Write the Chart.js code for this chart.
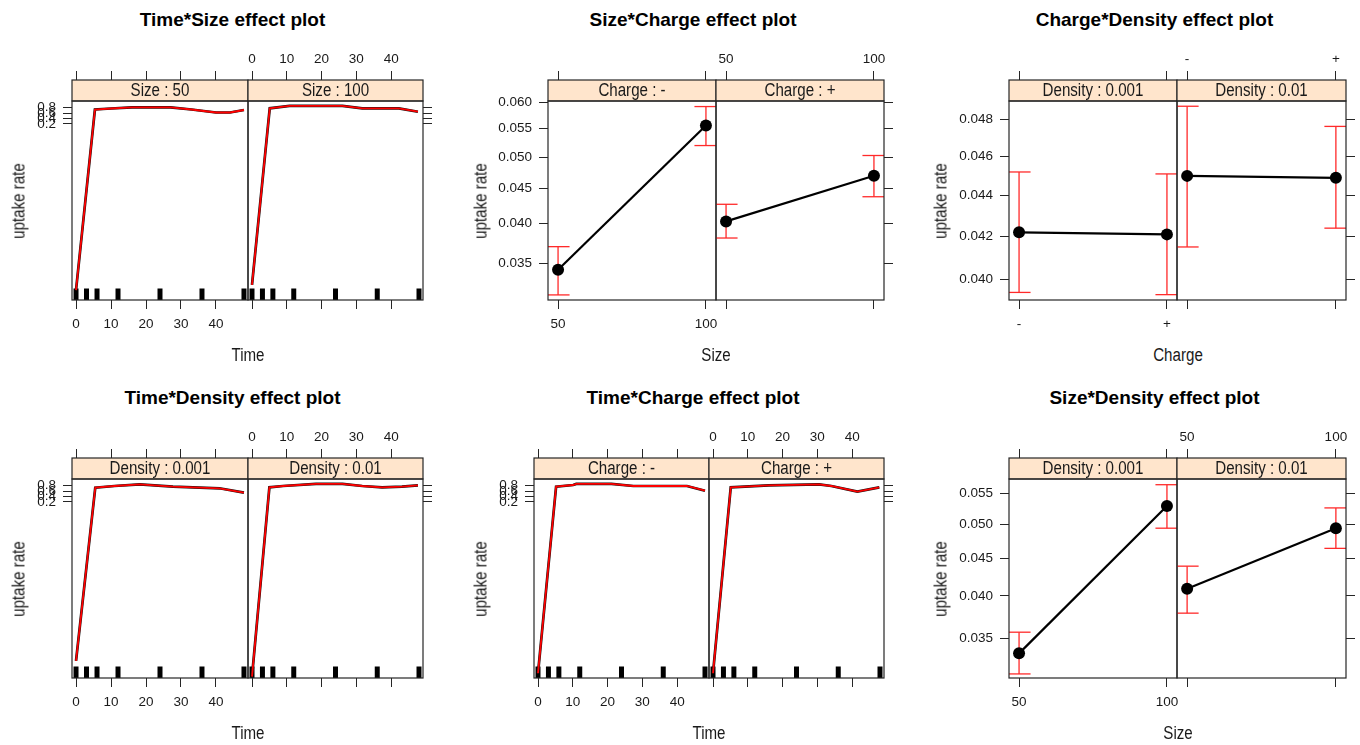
<!DOCTYPE html>
<html>
<head>
<meta charset="utf-8">
<script src="https://cdn.jsdelivr.net/npm/chart.js@4.4.1/dist/chart.umd.min.js"></script>
<style>
  html, body { margin: 0; padding: 0; background: #fff; }
  body { width: 1360px; height: 745px; position: relative; overflow: hidden; font-family: 'Liberation Sans', Arial, sans-serif; }
  canvas.panel { position: absolute; }
  .title { position: absolute; font-weight: bold; font-size: 19px; color: #000; white-space: nowrap; transform: translate(-50%, -50%); }
  .xlab, .ylab { position: absolute; font-family: 'Liberation Sans', Arial, sans-serif; font-size: 18px; color: #1a1a1a; white-space: nowrap; }
  .xlab { transform: translate(-50%, -50%) scaleX(0.84); }
  .ylab { transform: translate(-50%, -50%) rotate(-90deg) scaleX(0.84); }
</style>
</head>
<body>
<script>
// ---- data -------------------------------------------------------------
const rugTimes = [0, 3, 6, 12, 24, 36, 48];
const timeTicks = [0, 10, 20, 30, 40];
const sizeLevels = [50, 100];
const chargeLevels = ['-', '+'];
const densityLevels = ['0.001', '0.01'];

const timeRateTicks = [0.2, 0.4, 0.6, 0.8];
const scRateTicks = [0.035, 0.040, 0.045, 0.050, 0.055, 0.060];
const cdRateTicks = [0.040, 0.042, 0.044, 0.046, 0.048];
const sdRateTicks = [0.035, 0.040, 0.045, 0.050, 0.055];

// Time*Size fitted uptake rate
const tsTime50  = [0, 5.4, 10, 16, 27, 33, 40, 44, 48];
const tsRate50  = [1.3e-13, 0.740, 0.771, 0.805, 0.805, 0.740, 0.630, 0.630, 0.723];
const tsTime100 = [0, 5.1, 10.8, 26, 31.7, 42.2, 47.7];
const tsRate100 = [3.1e-13, 0.777, 0.838, 0.838, 0.777, 0.777, 0.661];

// Time*Density fitted uptake rate
const tdTime001 = [0, 5.5, 11, 18.2, 27.7, 41, 48];
const tdRate001 = [4.4e-13, 0.733, 0.786, 0.830, 0.765, 0.713, 0.540];
const tdTime01  = [0, 5, 8.9, 18.4, 26, 31.7, 37.4, 43.1, 47.7];
const tdRate01  = [3.0e-14, 0.746, 0.786, 0.838, 0.838, 0.786, 0.746, 0.765, 0.805];

// Time*Charge fitted uptake rate
const tcTimeNeg = [0, 5.2, 10.1, 11, 21.1, 27.4, 42.8, 48];
const tcRateNeg = [5.4e-14, 0.765, 0.813, 0.838, 0.838, 0.786, 0.786, 0.622];
const tcTimePos = [0, 5.1, 16, 30.5, 34, 41.5, 47.8];
const tcRatePos = [5.4e-14, 0.746, 0.805, 0.830, 0.786, 0.582, 0.746];

// Size*Charge effects with 95% limits (by size 50, 100)
const scFitNeg = [0.0342, 0.0556];
const scLowNeg = [0.0314, 0.0520];
const scUppNeg = [0.0370, 0.0592];
const scFitPos = [0.0403, 0.0470];
const scLowPos = [0.0381, 0.0438];
const scUppPos = [0.0427, 0.0503];

// Charge*Density effects (by charge -, +)
const cdFit001 = [0.0422, 0.0421];
const cdLow001 = [0.0394, 0.0393];
const cdUpp001 = [0.0452, 0.0451];
const cdFit01  = [0.0450, 0.0449];
const cdLow01  = [0.0415, 0.0424];
const cdUpp01  = [0.0487, 0.0476];

// Size*Density effects (by size 50, 100)
const sdFit001 = [0.0334, 0.0529];
const sdLow001 = [0.0313, 0.0494];
const sdUpp001 = [0.0357, 0.0565];
const sdFit01  = [0.0409, 0.0494];
const sdLow01  = [0.0379, 0.0464];
const sdUpp01  = [0.0439, 0.0526];

// ---- axis limits (response scale for y) ---------------------------------
const timeRange = [-1.15, 49.15];
const sizeRange = [46.6, 103.4];
const chargeRange = [0.932, 2.068];
const timeRateRange = [2.4e-14, 0.9234];
const scRateRange = [0.03086, 0.0603];
const cdRateRange = [0.03906, 0.04899];
const sdRateRange = [0.03090, 0.0575];

// ---- drawing ----------------------------------------------------------
const SANS = "'Liberation Sans', Arial, sans-serif";
const RED = '#ff2a2a';
const INK = '#1a1a1a';
const STRIP_H = 21;
const TOP_H = 61;
const BOTTOM_H = 42;
const LEFT_W = 72;
const RIGHT_W = 14;
const TICK_FONT = { family: SANS, size: 13.5 };

const logit = p => Math.log(p / (1 - p));

// strip above each panel plus the panel frame
const latticeFrame = {
  id: 'latticeFrame',
  afterDraw(chart, args, opts) {
    const { ctx, chartArea: a } = chart;
    const w = a.right - a.left;
    const sTop = a.top - STRIP_H;
    ctx.save();
    ctx.fillStyle = '#ffe5cc';
    ctx.fillRect(a.left, sTop, w, STRIP_H);
    ctx.strokeStyle = '#262626';
    ctx.lineWidth = 1.2;
    ctx.strokeRect(a.left, sTop, w, STRIP_H);
    ctx.strokeRect(a.left, a.top, w, a.bottom - a.top);
    ctx.fillStyle = INK;
    ctx.font = '18px ' + SANS;
    ctx.textAlign = 'center';
    ctx.textBaseline = 'middle';
    ctx.translate(a.left + w / 2, sTop + STRIP_H / 2 + 1);
    ctx.scale(0.84, 1);
    ctx.fillText(opts.label, 0, 0);
    ctx.restore();
  }
};

function fixedTicks(values) {
  return scale => { scale.ticks = values.map(v => ({ value: v })); };
}

function xAxis(position, range, positions, labels, showLabels, tickLen, size, pad) {
  return {
    type: 'linear', position, min: range[0], max: range[1],
    afterBuildTicks: fixedTicks(positions),
    afterFit: s => { s.height = size; s.paddingLeft = 0; s.paddingRight = 0; },
    ticks: {
      display: showLabels, autoSkip: false, maxRotation: 0, minRotation: 0, padding: pad,
      color: INK, font: TICK_FONT,
      callback: (v, i) => labels[i]
    },
    grid: { display: true, drawOnChartArea: false, drawTicks: true, tickLength: tickLen, color: '#262626', lineWidth: 1 },
    border: { display: false }
  };
}

function yAxis(position, rateRange, rateTicks, digits, showLabels, size) {
  return {
    type: 'linear', position, min: logit(rateRange[0]), max: logit(rateRange[1]),
    afterBuildTicks: fixedTicks(rateTicks.map(logit)),
    afterFit: s => { s.width = size; s.paddingTop = 0; s.paddingBottom = 0; },
    ticks: {
      display: showLabels, autoSkip: false, padding: 7,
      color: INK, font: TICK_FONT,
      callback: (v, i) => rateTicks[i].toFixed(digits)
    },
    grid: { display: true, drawOnChartArea: false, drawTicks: true, tickLength: 9, color: '#262626', lineWidth: 1 },
    border: { display: false }
  };
}

function buildPanel(spec) {
  const isLeft = spec.side === 'L';
  const plotW = spec.x1 - spec.x0;
  const plotH = spec.bottom - spec.top;
  const padL = isLeft ? 0 : 2;
  const padR = isLeft ? 2 : 0;
  const left = isLeft ? spec.x0 - LEFT_W : spec.x0 - padL;
  const width = isLeft ? LEFT_W + plotW + padR : padL + plotW + RIGHT_W;
  const height = TOP_H + plotH + BOTTOM_H;

  const cv = document.createElement('canvas');
  cv.className = 'panel';
  cv.width = width;
  cv.height = height;
  cv.style.left = left + 'px';
  cv.style.top = (spec.top - TOP_H) + 'px';
  cv.style.width = width + 'px';
  cv.style.height = height + 'px';
  document.body.appendChild(cv);

  const xs = spec.xAxis;
  const ys = spec.yAxis;
  new Chart(cv, {
    type: 'scatter',
    data: { datasets: spec.datasets },
    options: {
      responsive: false, maintainAspectRatio: false, animation: false,
      devicePixelRatio: 1, events: [],
      layout: { autoPadding: false, padding: { left: padL, right: padR, top: 0, bottom: 0 } },
      plugins: { legend: { display: false }, tooltip: { enabled: false }, latticeFrame: { label: spec.strip } },
      scales: {
        x: xAxis('bottom', xs.range, xs.positions, xs.labels, isLeft, 9, BOTTOM_H, 7),
        xt: xAxis('top', xs.range, xs.positions, xs.labels, !isLeft, STRIP_H + 9, TOP_H, 4),
        y: yAxis(isLeft ? 'left' : 'right', ys.range, ys.ticks, ys.digits, isLeft, isLeft ? LEFT_W : RIGHT_W)
      }
    },
    plugins: [latticeFrame]
  });
}

function timeDatasets(times, rates) {
  const pts = () => times.map((t, i) => ({ x: t, y: logit(rates[i]) }));
  return [
    { data: pts(), showLine: true, borderColor: '#ff0000', borderWidth: 1.8, pointRadius: 0, tension: 0 },
    { data: pts(), showLine: true, borderColor: '#111', borderWidth: 2.7, pointRadius: 0, tension: 0 },
    { data: rugTimes.map(t => ({ x: t, y: logit(timeRateRange[0]) })), showLine: false,
      pointStyle: 'line', pointRotation: 90, pointRadius: 11.5, pointBorderWidth: 5,
      pointBorderColor: '#000', pointBackgroundColor: '#000' }
  ];
}

function effectDatasets(xs, fit, low, upp) {
  const bars = [];
  xs.forEach((x, i) => { bars.push({ x, y: logit(low[i]) }, { x, y: logit(upp[i]) }, { x, y: null }); });
  const caps = xs.flatMap((x, i) => [{ x, y: logit(low[i]) }, { x, y: logit(upp[i]) }]);
  return [
    { data: xs.map((x, i) => ({ x, y: logit(fit[i]) })), showLine: true, borderColor: '#000', borderWidth: 2.2,
      pointRadius: 6, pointBackgroundColor: '#000', pointBorderWidth: 0, tension: 0 },
    { data: bars, showLine: true, spanGaps: false, borderColor: RED, borderWidth: 1.3, pointRadius: 0 },
    { data: caps, showLine: false, pointStyle: 'line', pointRadius: 11.5, pointBorderWidth: 1.3, pointBorderColor: RED }
  ];
}

function addText(cls, text, x, y) {
  const d = document.createElement('div');
  d.className = cls;
  d.textContent = text;
  d.style.left = x + 'px';
  d.style.top = y + 'px';
  document.body.appendChild(d);
}

const timeX = { range: timeRange, positions: timeTicks, labels: timeTicks.map(String) };
const sizeX = { range: sizeRange, positions: sizeLevels, labels: sizeLevels.map(String) };
const chargeX = { range: chargeRange, positions: chargeLevels.map((c, i) => i + 1), labels: chargeLevels };
const timeY = { range: timeRateRange, ticks: timeRateTicks, digits: 1 };
const chargePos = chargeLevels.map((c, i) => i + 1);

const TOP_ROW = { top: 101, bottom: 300 };
const BOT_ROW = { top: 479, bottom: 678 };

const plots = [
  { title: 'Time*Size effect plot', row: TOP_ROW, cols: [72, 248, 423], xlab: 'Time', xAxis: timeX, yAxis: timeY,
    panels: [
      { strip: 'Size : ' + sizeLevels[0], datasets: timeDatasets(tsTime50, tsRate50) },
      { strip: 'Size : ' + sizeLevels[1], datasets: timeDatasets(tsTime100, tsRate100) }
    ] },
  { title: 'Size*Charge effect plot', row: TOP_ROW, cols: [548, 716, 884], xlab: 'Size', xAxis: sizeX,
    yAxis: { range: scRateRange, ticks: scRateTicks, digits: 3 },
    panels: [
      { strip: 'Charge : ' + chargeLevels[0], datasets: effectDatasets(sizeLevels, scFitNeg, scLowNeg, scUppNeg) },
      { strip: 'Charge : ' + chargeLevels[1], datasets: effectDatasets(sizeLevels, scFitPos, scLowPos, scUppPos) }
    ] },
  { title: 'Charge*Density effect plot', row: TOP_ROW, cols: [1009, 1177, 1346], xlab: 'Charge', xAxis: chargeX,
    yAxis: { range: cdRateRange, ticks: cdRateTicks, digits: 3 },
    panels: [
      { strip: 'Density : ' + densityLevels[0], datasets: effectDatasets(chargePos, cdFit001, cdLow001, cdUpp001) },
      { strip: 'Density : ' + densityLevels[1], datasets: effectDatasets(chargePos, cdFit01, cdLow01, cdUpp01) }
    ] },
  { title: 'Time*Density effect plot', row: BOT_ROW, cols: [72, 248, 423], xlab: 'Time', xAxis: timeX, yAxis: timeY,
    panels: [
      { strip: 'Density : ' + densityLevels[0], datasets: timeDatasets(tdTime001, tdRate001) },
      { strip: 'Density : ' + densityLevels[1], datasets: timeDatasets(tdTime01, tdRate01) }
    ] },
  { title: 'Time*Charge effect plot', row: BOT_ROW, cols: [534, 709, 884], xlab: 'Time', xAxis: timeX, yAxis: timeY,
    panels: [
      { strip: 'Charge : ' + chargeLevels[0], datasets: timeDatasets(tcTimeNeg, tcRateNeg) },
      { strip: 'Charge : ' + chargeLevels[1], datasets: timeDatasets(tcTimePos, tcRatePos) }
    ] },
  { title: 'Size*Density effect plot', row: BOT_ROW, cols: [1009, 1177, 1346], xlab: 'Size', xAxis: sizeX,
    yAxis: { range: sdRateRange, ticks: sdRateTicks, digits: 3 },
    panels: [
      { strip: 'Density : ' + densityLevels[0], datasets: effectDatasets(sizeLevels, sdFit001, sdLow001, sdUpp001) },
      { strip: 'Density : ' + densityLevels[1], datasets: effectDatasets(sizeLevels, sdFit01, sdLow01, sdUpp01) }
    ] }
];

const titleCenters = [232.5, 693, 1154.5, 232.5, 693, 1154.5];
const ylabCenters = [18.5, 481, 941, 18.5, 481, 941];

plots.forEach((p, k) => {
  const [c0, c1, c2] = p.cols;
  p.panels.forEach((panel, j) => {
    buildPanel({
      side: j === 0 ? 'L' : 'R',
      x0: j === 0 ? c0 : c1, x1: j === 0 ? c1 : c2,
      top: p.row.top, bottom: p.row.bottom,
      strip: panel.strip, xAxis: p.xAxis, yAxis: p.yAxis, datasets: panel.datasets
    });
  });
  const rowShift = p.row === TOP_ROW ? 0 : 378;
  addText('title', p.title, titleCenters[k], 20 + rowShift);
  addText('xlab', p.xlab, (c0 + c2) / 2, 355 + rowShift);
  addText('ylab', 'uptake rate', ylabCenters[k], (p.row.top + p.row.bottom) / 2);
});
</script>
</body>
</html>
